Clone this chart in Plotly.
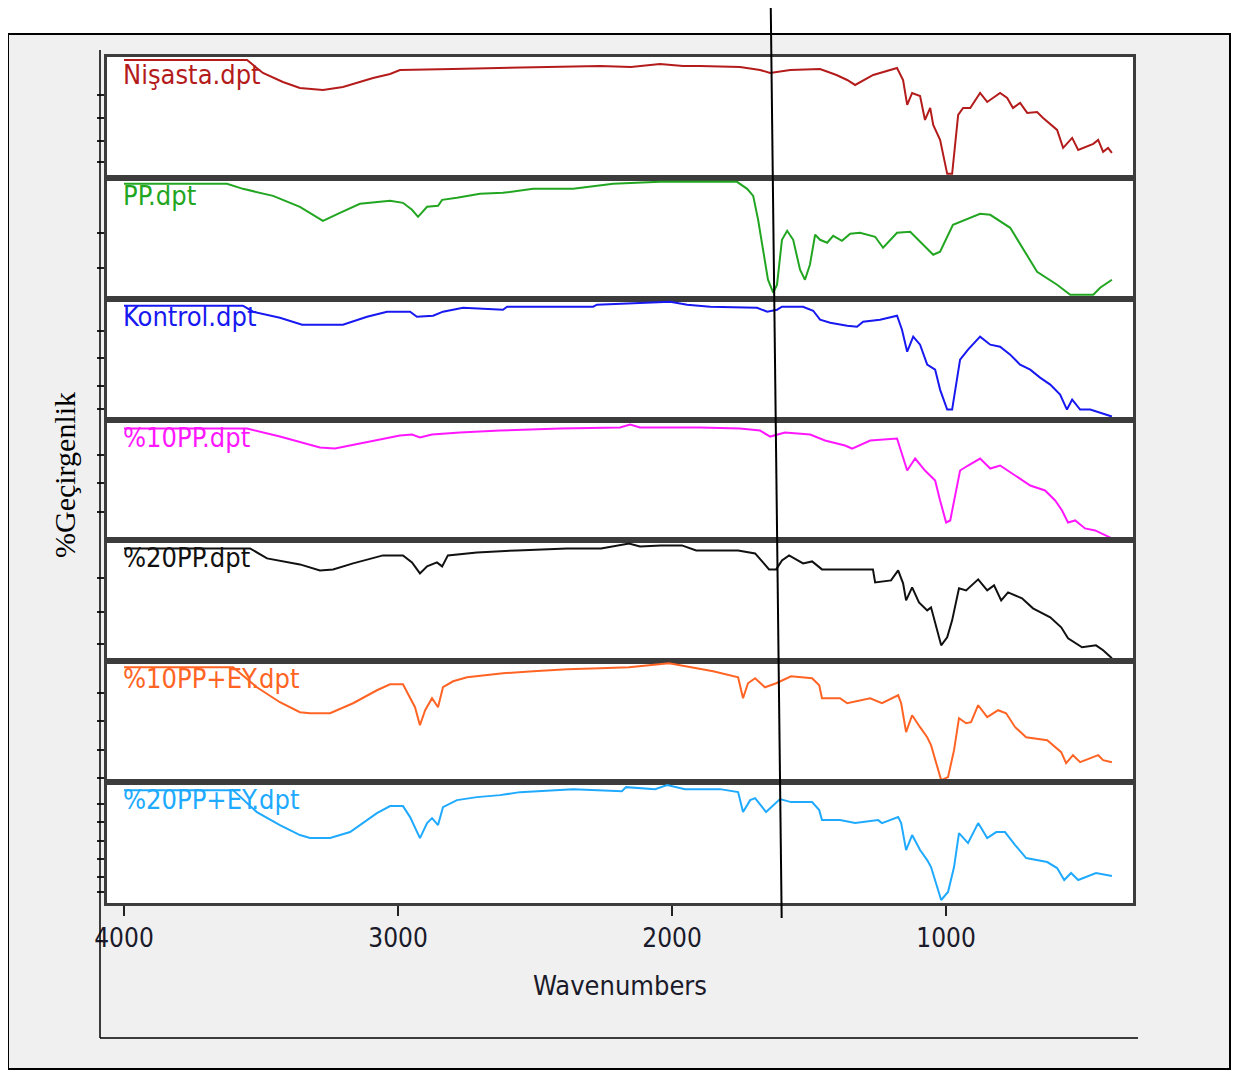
import plotly.graph_objects as go
from plotly.subplots import make_subplots

# ---------------- data (wavenumber cm-1, relative transmittance per panel) ----------------
nisasta = [(4000,118),(3551,118),(3493,105),(3420,96),(3358,90),(3274,88),(3201,91),(3140,96),(3091,100),
           (3029,104),(2993,108),(2800,109),(2628,110),(2450,111),(2263,112),(2150,111),(2044,114),(1960,112),
           (1898,112),(1752,111),(1679,108),(1642,105),(1600,107),(1569,108),(1460,109),(1400,103),(1361,98),
           (1332,93),(1266,103),(1179,110),(1157,98),(1142,73),(1124,85),(1095,82),(1077,58),(1058,70),(1047,53),
           (1022,38),(996,4),(978,4),(956,63),(938,70),(912,70),(876,85),(850,76),(803,85),(777,80),(756,70),
           (730,75),(704,65),(668,66),(646,60),(595,48),(573,30),(540,40),(518,28),(463,34),(445,38),(427,26),
           (409,30),(395,25)]
pp = [(4000,115),(3624,115),(3566,110),(3456,103),(3358,92),(3274,78),(3212,86),(3139,95),(3029,98),(2982,96),
      (2949,89),(2927,82),(2894,92),(2854,93),(2839,99),(2785,101),(2701,105),(2617,106),(2507,110),(2361,110),
      (2215,115),(2044,117),(1763,117),(1726,110),(1704,103),(1686,79),(1668,49),(1650,19),(1631,6),(1617,14),
      (1599,59),(1580,68),(1558,59),(1533,29),(1515,19),(1497,34),(1478,64),(1460,59),(1434,56),(1412,63),
      (1380,58),(1350,65),(1314,66),(1259,62),(1230,51),(1179,66),(1131,67),(1047,44),(1022,47),(975,74),
      (876,85),(839,84),(766,71),(704,44),(668,27),(595,14),(547,4),(463,4),(438,11),(395,19)]
kontrol = [(4000,114),(3566,114),(3529,108),(3431,102),(3350,95),(3201,95),(3113,103),(3040,108),(2956,108),
           (2931,103),(2872,104),(2836,108),(2763,112),(2617,110),(2602,113),(2288,113),(2274,115),(2044,117),
           (2007,118),(1945,115),(1861,113),(1690,112),(1653,108),(1617,110),(1599,113),(1522,113),(1485,109),
           (1460,100),(1423,97),(1361,94),(1325,93),(1303,98),(1241,100),(1179,104),(1161,90),(1142,68),(1120,83),
           (1095,75),(1069,55),(1040,50),(1022,30),(996,10),(978,10),(949,60),(920,70),(876,83),(839,75),(803,73),
           (766,65),(730,55),(693,50),(657,42),(620,35),(584,25),(559,10),(540,20),(511,10),(474,10),(438,7),(395,3)]
pp10 = [(4000,112),(3551,112),(3431,104),(3285,93),(3230,92),(3139,97),(2993,105),(2949,106),(2920,103),
        (2876,106),(2774,108),(2628,110),(2409,112),(2190,113),(2153,116),(2117,113),(1898,113),(1752,112),
        (1679,110),(1642,104),(1588,108),(1496,106),(1442,100),(1369,95),(1343,92),(1277,100),(1179,102),
        (1142,70),(1113,82),(1077,70),(1040,60),(1022,40),(1000,18),(985,20),(949,70),(920,75),(876,82),(839,72),
        (803,75),(748,65),(693,55),(639,50),(602,40),(577,30),(555,18),(529,20),(493,12),(456,10),(420,5),(395,2)]
pp20 = [(4000,113),(3540,113),(3478,103),(3358,97),(3285,91),(3237,92),(3164,98),(3055,106),(2982,106),
        (2949,99),(2920,88),(2894,95),(2858,99),(2839,95),(2818,106),(2712,109),(2566,111),(2383,113),(2259,113),
        (2157,118),(2117,115),(2040,116),(1964,116),(1912,111),(1759,111),(1697,108),(1646,92),(1620,92),
        (1599,101),(1573,106),(1522,98),(1489,100),(1453,92),(1267,92),(1259,79),(1201,81),(1175,91),(1157,78),
        (1146,61),(1124,74),(1099,59),(1069,51),(1055,54),(1044,43),(1018,16),(996,24),(978,41),(953,73),
        (927,71),(883,82),(850,71),(825,76),(799,61),(774,69),(723,63),(683,53),(620,44),(580,34),(555,23),
        (504,14),(453,16),(427,11),(395,3)]
pp10_ey = [(4000,115),(3602,115),(3515,95),(3431,80),(3358,70),(3321,69),(3248,69),(3164,79),(3077,92),
           (3029,98),(2982,98),(2956,85),(2938,75),(2920,57),(2901,72),(2876,84),(2854,75),(2836,95),(2799,101),
           (2748,105),(2675,107),(2617,109),(2507,111),(2383,113),(2263,114),(2157,115),(2011,119),(1934,115),
           (1850,111),(1759,105),(1741,84),(1723,99),(1697,104),(1661,95),(1620,99),(1566,106),(1489,104),
           (1463,97),(1453,84),(1387,84),(1361,79),(1277,84),(1234,79),(1175,87),(1164,79),(1146,50),(1124,67),
           (1095,55),(1069,45),(1055,37),(1018,2),(993,5),(971,32),(953,64),(927,59),(909,60),(883,77),(850,65),
           (810,72),(781,69),(748,55),(708,45),(631,42),(580,30),(562,19),(537,27),(511,20),(445,27),(427,22),(395,20)]
pp20_ey = [(4000,113),(3602,113),(3515,91),(3431,78),(3358,68),(3321,65),(3248,65),(3175,71),(3077,90),
           (3029,97),(2982,97),(2956,86),(2920,65),(2894,80),(2876,85),(2854,78),(2836,96),(2785,103),(2712,106),
           (2628,108),(2555,111),(2361,114),(2183,112),(2168,116),(2062,114),(2018,118),(1953,114),(1825,114),
           (1759,111),(1741,91),(1715,103),(1697,105),(1657,91),(1606,104),(1566,101),(1489,101),(1463,93),
           (1453,83),(1387,83),(1332,80),(1248,83),(1234,80),(1175,86),(1164,80),(1146,53),(1124,68),(1095,53),
           (1069,43),(1055,36),(1018,3),(993,11),(971,36),(953,70),(920,60),(883,80),(850,65),(817,71),(785,71),
           (748,58),(708,45),(631,41),(595,35),(569,23),(544,30),(518,23),(453,30),(395,27)]

names = ["Nişasta.dpt", "PP.dpt", "Kontrol.dpt", "%10PP.dpt", "%20PP.dpt", "%10PP+EY.dpt", "%20PP+EY.dpt"]
spectra = [nisasta, pp, kontrol, pp10, pp20, pp10_ey, pp20_ey]
colors = ["#B41C1C", "#22A622", "#1818F0", "#FF18FF", "#111111", "#FF6424", "#20AAFF"]
panel_ticks = [[83, 60, 37, 16], [66, 31], [89, 62, 34, 11], [86, 57, 28], [83, 49, 17],
               [89, 61, 32, 4], [99, 81, 62, 44, 26, 11]]
x_ticks = [4000, 3000, 2000, 1000]
x_tick_labels = ["4000", "3000", "2000", "1000"]
marker_wn = (1640, 1600)   # hand-drawn reference line (top, bottom)

X_RANGE = [4062, 318]
Y_RANGE = [0, 121]

NARROW = "Liberation Sans Narrow, DejaVu Sans Condensed, Arial Narrow, Liberation Sans, sans-serif"
FRAME = "#3c3c3c"

fig = make_subplots(rows=7, cols=1, shared_xaxes=True, vertical_spacing=0)

for i, (name, spec, col, tk) in enumerate(zip(names, spectra, colors, panel_ticks)):
    r = i + 1
    fig.add_trace(go.Scatter(x=[p[0] for p in spec], y=[p[1] for p in spec], mode="lines",
                             line=dict(color=col, width=2), showlegend=False, name=name,
                             hoverinfo="skip"), row=r, col=1)
    fig.update_yaxes(range=Y_RANGE, tickvals=tk, ticks="outside", ticklen=7, tickwidth=1.5,
                     tickcolor="#222", showticklabels=False, showgrid=False, zeroline=False,
                     showline=True, mirror=True, linecolor=FRAME, linewidth=3, row=r, col=1)
    yref = "y domain" if r == 1 else f"y{r} domain"
    fig.add_annotation(xref="paper", yref=yref, x=0.0136, y=1.0, xanchor="left", yanchor="top",
                       text=name, showarrow=False, font=dict(family=NARROW, size=27, color=col))

fig.update_xaxes(range=X_RANGE, showgrid=False, zeroline=False, showline=True, mirror=True,
                 linecolor=FRAME, linewidth=3, ticks="", showticklabels=False)
fig.update_xaxes(tickvals=x_ticks, ticktext=x_tick_labels, ticks="outside", ticklen=10, tickwidth=2,
                 tickcolor="#222", showticklabels=True,
                 tickfont=dict(family=NARROW, size=26, color="#1a1a2a"),
                 title=dict(text="Wavenumbers", font=dict(family=NARROW, size=27, color="#1a1a2a"),
                            standoff=24),
                 row=7, col=1)

# page body adds an 8px margin; the figure is laid out in page pixels minus that offset
OFF = 8
W, H = 1243 - 2 * OFF, 1079 - 2 * OFF
PLOT_X0, PLOT_X1, PLOT_Y0, PLOT_Y1 = 107, 1133, 57, 903   # page pixels of plot area
L, T = PLOT_X0 - OFF, PLOT_Y0 - OFF
pw, ph = PLOT_X1 - PLOT_X0, PLOT_Y1 - PLOT_Y0
R, B = W - L - pw, H - T - ph

def px(xp):
    return (xp - PLOT_X0) / pw

def py(yp):
    return (PLOT_Y1 - yp) / ph

def wn_paper(wn):
    return (X_RANGE[0] - wn) / (X_RANGE[0] - X_RANGE[1])

shapes = [
    dict(type="rect", xref="paper", yref="paper", x0=px(8), x1=px(1230), y0=py(1069), y1=py(34),
         fillcolor="#F0F0F0", line=dict(color="black", width=2), layer="below"),
    dict(type="rect", xref="paper", yref="paper", x0=0, x1=1, y0=0, y1=1,
         fillcolor="white", line=dict(width=0), layer="below"),
    dict(type="line", xref="paper", yref="paper", x0=px(100), x1=px(100), y0=py(50), y1=py(1038),
         line=dict(color="black", width=1.5)),
    dict(type="line", xref="paper", yref="paper", x0=px(100), x1=px(1138), y0=py(1038), y1=py(1038),
         line=dict(color="black", width=1.5)),
    dict(type="line", xref="paper", yref="paper", x0=wn_paper(marker_wn[0]), x1=wn_paper(marker_wn[1]),
         y0=py(4), y1=py(918), line=dict(color="black", width=2)),
]

fig.add_annotation(xref="paper", yref="paper", x=px(64), y=py(475), text="%Geçirgenlik",
                   textangle=-90, showarrow=False, xanchor="center", yanchor="middle",
                   font=dict(family="Liberation Serif, Times New Roman, serif", size=30, color="black"))

fig.update_layout(width=W, height=H, margin=dict(l=L, r=R, t=T, b=B, pad=0),
                  paper_bgcolor="white", plot_bgcolor="white", shapes=shapes)

fig.write_html("out.html")
